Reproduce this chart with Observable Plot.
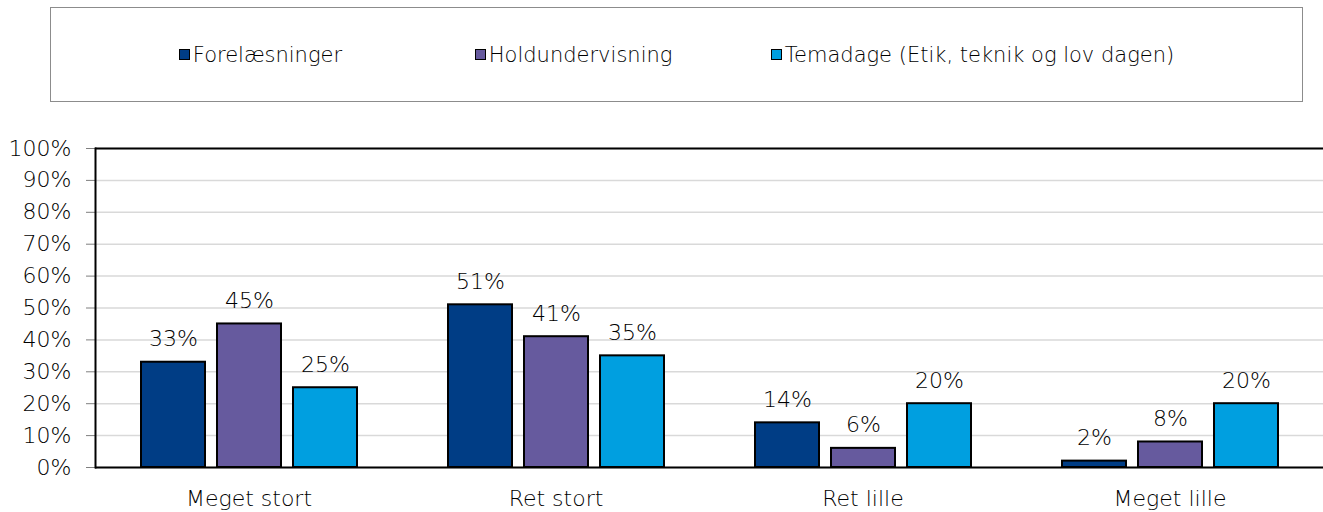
<!DOCTYPE html>
<html>
<head>
<meta charset="utf-8">
<script src="https://cdn.jsdelivr.net/npm/d3@7"></script>
<script src="https://cdn.jsdelivr.net/npm/@observablehq/plot@0.6"></script>
<style>
  html, body { margin: 0; padding: 0; background: #fff; }
  #wrap { position: relative; width: 1323px; height: 512px; font-family: "DejaVu Sans", sans-serif; font-weight: 300; }
  #legend { position: absolute; left: 50px; top: 7px; width: 1251px; height: 93px; border: 1px solid #8c8c8c;
            display: flex; justify-content: center; align-items: center; font-size: 21px; color: #000; }
  .item { display: flex; align-items: center; white-space: nowrap; }
  .sw { width: 9px; height: 9px; border: 1.5px solid #000; margin-right: 3px; }
  #chart { position: absolute; left: 0; top: 110px; }
  #chart svg text { font-weight: 300; }
</style>
</head>
<body>
<div id="wrap">
  <div id="legend"></div>
  <div id="chart"></div>
</div>
<script>
const categories = ["Meget stort", "Ret stort", "Ret lille", "Meget lille"];
const series = ["Forelæsninger", "Holdundervisning", "Temadage (Etik, teknik og lov dagen)"];
const forelaesninger = [0.33, 0.51, 0.14, 0.02];
const holdundervisning = [0.45, 0.41, 0.06, 0.08];
const temadage = [0.25, 0.35, 0.20, 0.20];
const colors = ["#003D85", "#665A9E", "#009FE0"];
const yTicks = [0, 0.1, 0.2, 0.3, 0.4, 0.5, 0.6, 0.7, 0.8, 0.9, 1];

const valuesBySeries = [forelaesninger, holdundervisning, temadage];
const data = [];
categories.forEach((c, i) => {
  series.forEach((s, j) => data.push({cat: c, series: s, value: valuesBySeries[j][i]}));
});

// Legend
const legend = document.getElementById("legend");
series.forEach((s, j) => {
  const it = document.createElement("div");
  it.className = "item";
  if (j < series.length - 1) it.style.width = "296px";
  const sw = document.createElement("span");
  sw.className = "sw";
  sw.style.background = colors[j];
  const tx = document.createElement("span");
  tx.textContent = s;
  it.appendChild(sw); it.appendChild(tx);
  legend.appendChild(it);
});

const fmt = d3.format(".0%");
const chart = Plot.plot({
  width: 1323,
  height: 402,
  marginLeft: 95,
  marginRight: 0,
  marginTop: 38,
  marginBottom: 45,
  style: {fontFamily: "DejaVu Sans, sans-serif", fontSize: "22px", color: "#000", background: "transparent"},
  fx: {domain: categories, paddingInner: 0, paddingOuter: 0, label: null},
  x: {domain: series, paddingInner: 0.16, paddingOuter: 0.58, axis: null},
  y: {domain: [0, 1], label: null},
  color: {domain: series, range: colors},
  marks: [
    Plot.gridY(yTicks, {stroke: "#d9d9d9", strokeOpacity: 1, strokeWidth: 1.5}),
    Plot.axisY(yTicks, {tickFormat: fmt, tickSize: 9, tickPadding: 15, fontSize: 22, stroke: "#7f7f7f", fill: "#000", label: null}),
    Plot.axisFx({anchor: "bottom", tickSize: 0, tickPadding: 23, fontSize: 22, fill: "#000", label: null}),
    Plot.barY(data, {fx: "cat", x: "series", y: "value", fill: "series", stroke: "#000", strokeWidth: 2}),
    Plot.ruleY([0, 1], {stroke: "#000", strokeWidth: 2}),
    Plot.frame({anchor: "left", facetAnchor: "left", stroke: "#000", strokeWidth: 2}),
    Plot.text(data, {fx: "cat", x: "series", y: "value", text: d => fmt(d.value), lineAnchor: "bottom", dy: -16, fontSize: 22, fill: "#000"})
  ]
});
document.getElementById("chart").appendChild(chart);
</script>
</body>
</html>
